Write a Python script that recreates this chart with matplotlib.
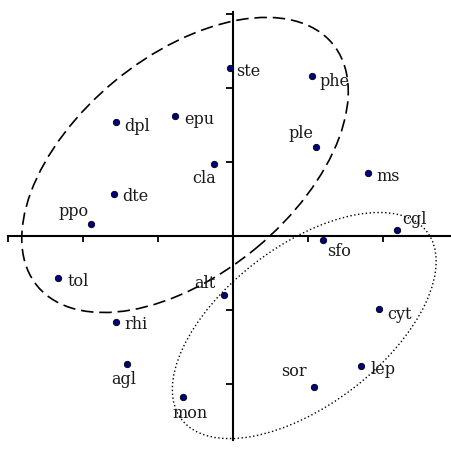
import matplotlib.pyplot as plt
from matplotlib.patches import Ellipse

# species scores on the first two axes
names = ['ste', 'phe', 'ple', 'ms', 'cgl', 'sfo', 'cyt', 'lep', 'sor', 'mon',
         'agl', 'rhi', 'tol', 'alt', 'ppo', 'dte', 'dpl', 'epu', 'cla']
x = [-0.04, 1.05, 1.11, 1.80, 2.19, 1.20, 1.95, 1.71, 1.08, -0.67,
     -1.41, -1.56, -2.33, -0.12, -1.89, -1.59, -1.56, -0.77, -0.25]
y = [2.27, 2.16, 1.20, 0.85, 0.08, -0.05, -0.99, -1.76, -2.04, -2.18,
     -1.73, -1.16, -0.57, -0.80, 0.16, 0.57, 1.54, 1.62, 0.97]

# label placement: offset in pixels (dx, dy up) and alignment
place = {
    'ste': (6, -3, 'left'), 'phe': (8, -5, 'left'), 'ple': (-3, 14, 'right'),
    'ms': (8, -3, 'left'), 'cgl': (5, 11, 'left'), 'sfo': (4, -12, 'left'),
    'cyt': (8, -5, 'left'), 'lep': (9, -3, 'left'), 'sor': (-7, 15, 'right'),
    'mon': (7, -16, 'center'), 'agl': (-3, -15, 'center'), 'rhi': (8, -3, 'left'),
    'tol': (9, -3, 'left'), 'alt': (-8, 12, 'right'), 'ppo': (-3, 13, 'right'),
    'dte': (9, -3, 'left'), 'dpl': (8, -4, 'left'), 'epu': (9, -3, 'left'),
    'cla': (2, -14, 'right'),
}

fig = plt.figure(figsize=(4.52, 4.55), dpi=100)
ax = fig.add_axes([0, 0, 1, 1])
ax.set_xlim(-233 / 75, 219 / 75)
ax.set_ylim(-219 / 74, 236 / 74)

# axes through the origin
for side in ['top', 'right']:
    ax.spines[side].set_visible(False)
ax.spines['left'].set_position('zero')
ax.spines['bottom'].set_position('zero')
ax.spines['left'].set_bounds(-2.76, 3.03)
ax.spines['bottom'].set_bounds(-3.0, 3.0)
for side in ['left', 'bottom']:
    ax.spines[side].set_linewidth(1.5)
ax.set_xticks([-3, -2, -1, 1, 2])
ax.set_yticks([-2, -1, 1, 2, 3])
ax.tick_params(axis='x', direction='out', length=4, width=1.3, labelbottom=False)
ax.tick_params(axis='y', direction='out', length=5, width=1.3, labelleft=False)

# group outlines
ax.add_patch(Ellipse((-0.64, 0.96), 2 * 2.56, 2 * 1.47, angle=40, fill=False,
                     ec='black', lw=1.2, ls=(0, (7.5, 3.5))))
ax.add_patch(Ellipse((0.95, -1.21), 2 * 2.07, 2 * 1.07, angle=38, fill=False,
                     ec='black', lw=1.0, ls=(0, (1, 1.8))))

ax.plot(x, y, 'o', ms=4.6, mfc='#000080', mec='black', mew=0.6, zorder=5)

for n, xi, yi in zip(names, x, y):
    dx, dy, ha = place[n]
    ax.annotate(n, (xi, yi), xytext=(dx * 0.72, dy * 0.72), textcoords='offset points',
                ha=ha, va='center', fontsize=11.5, family='DejaVu Serif',
                color='#1a1a1a')

fig.savefig('out.png', dpi=100)
